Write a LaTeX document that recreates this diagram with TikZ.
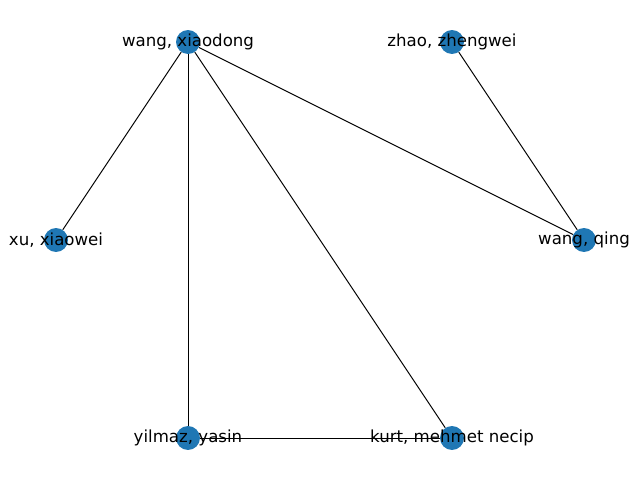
\documentclass[tikz,border=0pt]{standalone}
\usepackage{fontspec}
\setmainfont{DejaVu Sans}
\tikzset{
  person/.style = {shape=circle, fill={rgb,255:red,31;green,119;blue,180},
                   draw=none, minimum size=24pt*0.72, inner sep=0pt},
  tag/.style    = {font=\fontsize{12}{14}\selectfont, inner sep=0pt, text=black},
  link/.style   = {draw, line width=0.7pt}
}

\begin{document}
\begin{tikzpicture}
  [
    x = 0.01in,
    y = -0.01in
  ]
  \useasboundingbox (0,0) rectangle (640,480);
  % people
  \node [person] (wangx) at (188,42)  {};
  \node [person] (zhao)  at (452,42)  {};
  \node [person] (xu)    at (56,240)  {};
  \node [person] (wangq) at (584,240) {};
  \node [person] (yil)   at (188,438) {};
  \node [person] (kurt)  at (452,438) {};
  % co-author links
  \draw [link] (wangx) -- (xu);
  \draw [link] (wangx) -- (yil);
  \draw [link] (wangx) -- (kurt);
  \draw [link] (wangx) -- (wangq);
  \draw [link] (zhao)  -- (wangq);
  \draw [link] (yil)   -- (kurt);
  % names
  \node [tag] (wangx-t) at (wangx) {wang, xiaodong};
  \node [tag] (zhao-t)  at (zhao)  {zhao, zhengwei};
  \node [tag] (xu-t)    at (xu)    {xu, xiaowei};
  \node [tag] (wangq-t) at (wangq) {wang, qing};
  \node [tag] (yil-t)   at (yil)   {yilmaz, yasin};
  \node [tag] (kurt-t)  at (kurt)  {kurt, mehmet necip};
\end{tikzpicture}
\end{document}
